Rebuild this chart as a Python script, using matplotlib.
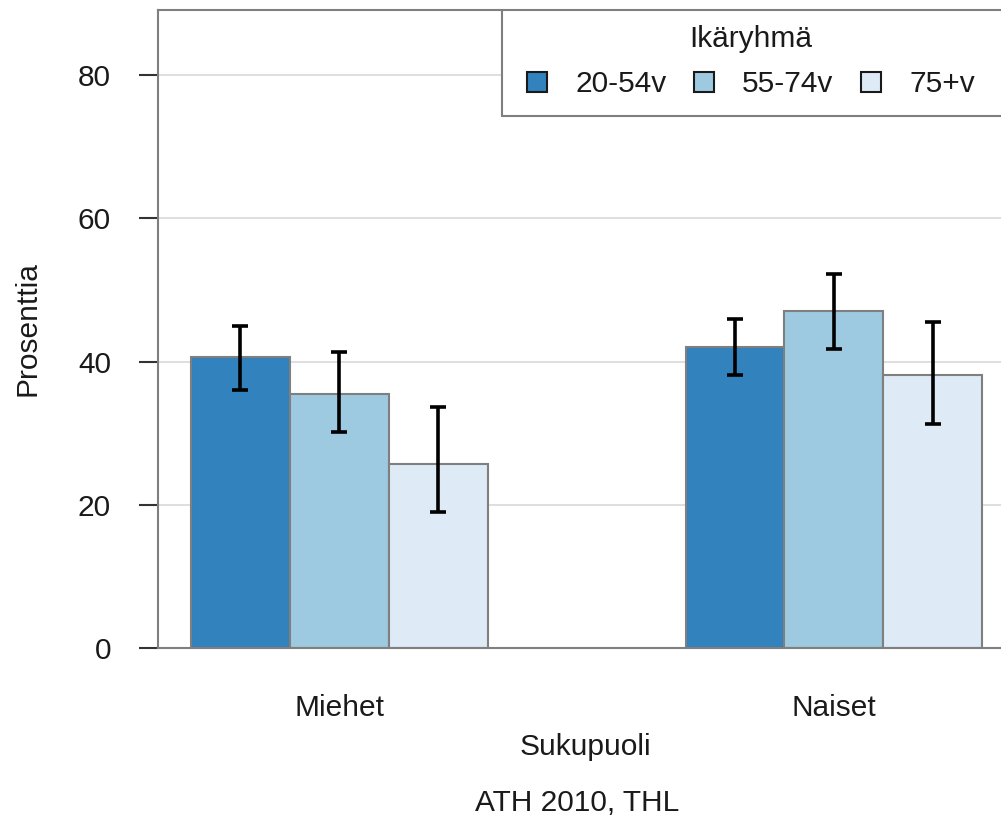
import numpy as np
import matplotlib
matplotlib.use("Agg")
import matplotlib.pyplot as plt
from matplotlib.patches import Patch, Rectangle

plt.rcParams['font.family'] = ['Liberation Sans', 'DejaVu Sans']

sexes = ['Miehet', 'Naiset']
age_groups = ['20-54v', '55-74v', '75+v']
colors = ['#3182BD', '#9ECAE1', '#DEEBF7']

# percentage and 95% confidence limits per age group, order: Miehet, Naiset
pct = {
    '20-54v': [40.6, 42.1],
    '55-74v': [35.5, 47.1],
    '75+v':   [25.7, 38.2],
}
low = {
    '20-54v': [36.1, 38.2],
    '55-74v': [30.2, 41.8],
    '75+v':   [19.0, 31.3],
}
high = {
    '20-54v': [45.0, 46.0],
    '55-74v': [41.3, 52.3],
    '75+v':   [33.7, 45.6],
}

fs = 21.5
txt = '#1a1a1a'
frame_col = '#7f7f7f'

fig = plt.figure(figsize=(10.01, 8.23), dpi=100)
ax = fig.add_axes([0.158, 0.2126, 0.853, 0.7752])

x = np.arange(len(sexes))
w = 0.2
for i, g in enumerate(age_groups):
    xs = x + (i - 1) * w
    vals = np.array(pct[g])
    ax.bar(xs, vals, width=w, color=colors[i], edgecolor=frame_col,
           linewidth=1.5, zorder=2)
    yerr = [vals - np.array(low[g]), np.array(high[g]) - vals]
    ax.errorbar(xs, vals, yerr=yerr, fmt='none', ecolor='black',
                elinewidth=2.6, capsize=6, capthick=2.6, zorder=3)

ax.set_xlim(-0.366, 1.36)
ax.set_ylim(0, 89.1)
ax.set_yticks([0, 20, 40, 60, 80])
ax.set_xticks(x)
ax.set_xticklabels(sexes)
ax.yaxis.grid(True, color='#d9d9d9', linewidth=1.2, zorder=0)
ax.set_axisbelow(True)

for s in ['left', 'top', 'bottom', 'right']:
    ax.spines[s].set_color(frame_col)
    ax.spines[s].set_linewidth(1.5)

ax.tick_params(axis='y', length=14, width=1.5, color='#333333', pad=20,
               labelsize=fs, labelcolor=txt)
ax.tick_params(axis='x', length=0, pad=33, labelsize=fs, labelcolor=txt)

ax.set_ylabel('Prosenttia', fontsize=fs, color=txt, labelpad=26)
ax.set_xlabel('Sukupuoli', fontsize=fs, color=txt, labelpad=8)
fig.text(0.577, 0.024, 'ATH 2010, THL', fontsize=fs, color=txt,
         ha='center', va='center')

handles = [Patch(facecolor=c, edgecolor=txt, linewidth=1.5) for c in colors]
leg = ax.legend(handles, age_groups, title='Ikäryhmä', ncol=3,
                loc='upper right', bbox_to_anchor=(0.9566, 0.976),
                borderaxespad=0, borderpad=0, frameon=False,
                fontsize=fs, title_fontsize=fs,
                handlelength=0.68, handleheight=0.68, handletextpad=0.95,
                columnspacing=0.9, labelspacing=0.567)
leg.set_zorder(6)
leg.get_title().set_color(txt)
for t in leg.get_texts():
    t.set_color(txt)

# legend box: runs from left of the first key out past the right edge of the axes
fig.canvas.draw()
key_bb = leg.legend_handles[0].get_window_extent()
lab_bb = leg.get_texts()[0].get_window_extent()
inv = ax.transAxes.inverted()
bx0, by0 = inv.transform((key_bb.x0 - 25, (lab_bb.y0 + lab_bb.y1) / 2 - 32))
ax.add_patch(Rectangle((bx0, by0), 1.0 - bx0, 1.0 - by0, transform=ax.transAxes,
                       facecolor='white', edgecolor=frame_col, linewidth=1.5,
                       zorder=5))

fig.savefig('out.png', dpi=100)
